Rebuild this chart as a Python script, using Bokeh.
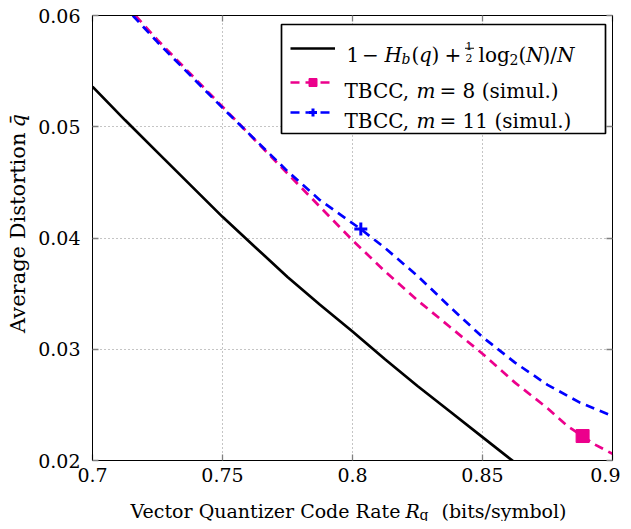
import math
from bokeh.plotting import figure
from bokeh.layouts import row, column
from bokeh.models import (Range1d, LinearAxis, FixedTicker, Legend, LegendItem,
                          Label, BoxAnnotation, CustomLabelingPolicy)
from bokeh.embed import file_html
from bokeh.resources import INLINE

# ---------------- data ----------------
bound_rate = [0.700, 0.7125, 0.725, 0.7375, 0.750, 0.7625, 0.775, 0.7875,
              0.800, 0.8125, 0.825, 0.8375, 0.850, 0.862]
bound_dist = [0.0536, 0.0506, 0.0477, 0.0448, 0.0419, 0.0392, 0.0365, 0.0340,
              0.0316, 0.0291, 0.0267, 0.0244, 0.0221, 0.0199]

m8_rate = [0.7165, 0.725, 0.750, 0.775, 0.800, 0.8125, 0.825, 0.8375, 0.850,
           0.8625, 0.875, 0.8827, 0.8885, 0.8927, 0.900]
m8_dist = [0.0600, 0.0578, 0.0518, 0.0458, 0.0398, 0.0370, 0.0344, 0.0320, 0.0296,
           0.0270, 0.0247, 0.0231, 0.0222, 0.0215, 0.0206]

m11_rate = [0.7155, 0.725, 0.750, 0.775, 0.7875, 0.8032, 0.8125, 0.825, 0.8375,
            0.850, 0.8625, 0.875, 0.8875, 0.900]
m11_dist = [0.0600, 0.0576, 0.0517, 0.0460, 0.0434, 0.0408, 0.0391, 0.0366, 0.0338,
            0.0311, 0.0288, 0.0268, 0.0252, 0.0240]

m8_mark_rate = [0.8885]
m8_mark_dist = [0.0222]
m11_mark_rate = [0.8032]
m11_mark_dist = [0.0408]

x_ticks = [0.70, 0.75, 0.80, 0.85, 0.90]
x_tick_labels = ["0.7", "0.75", "0.8", "0.85", "0.9"]
y_ticks = [0.02, 0.03, 0.04, 0.05, 0.06]
y_tick_labels = ["0.02", "0.03", "0.04", "0.05", "0.06"]

# ---------------- style ----------------
FONT = "DejaVu Serif"
TICK_FS = "19px"
TXT_FS = "20px"
PINK = "#EC008C"
BLUE = "#0000FF"
GRID = "#8a8a8a"

LEFT_W = 30
MAIN_W, MAIN_H = 590, 491
BOT_H = 30
TOTAL_H = 525
BOT_BOTTOM = 528          # page y of the bottom edge of the title strip
BORDER_L, BORDER_R = 62, 8

p = figure(width=MAIN_W, height=MAIN_H,
           x_range=Range1d(0.7, 0.9), y_range=Range1d(0.02, 0.06),
           output_backend="svg", toolbar_location=None,
           min_border_left=BORDER_L, min_border_right=BORDER_R,
           min_border_top=15, min_border_bottom=31)
p.background_fill_color = "white"
p.border_fill_color = "white"
p.outline_line_color = "black"
p.outline_line_width = 1

xt = FixedTicker(ticks=x_ticks)
yt = FixedTicker(ticks=y_ticks)

hide_all = CustomLabelingPolicy(code="""
const all = Array.from(indices)
for (const i of all) indices.unset(i)
return indices
""")


def style_axis(ax, ticker, ticks, labels, show_labels, standoff):
    ax.ticker = ticker
    ax.major_tick_in = 6
    ax.major_tick_out = 0
    ax.minor_tick_in = 0
    ax.minor_tick_out = 0
    ax.major_tick_line_color = "#808080"
    ax.major_tick_line_width = 1.3
    ax.axis_line_color = "black"
    ax.axis_line_width = 1
    if show_labels:
        ax.major_label_overrides = dict(zip(ticks, labels))
        ax.major_label_text_font = FONT
        ax.major_label_text_font_size = TICK_FS
        ax.major_label_text_color = "black"
        ax.major_label_standoff = standoff
    else:
        ax.major_label_overrides = {t: "" for t in ticks}
        ax.major_label_policy = hide_all
        ax.major_label_text_font_size = "1px"
        ax.major_label_standoff = 0


style_axis(p.below[0], xt, x_ticks, x_tick_labels, True, 7)
style_axis(p.left[0], yt, y_ticks, y_tick_labels, True, 12)
top_ax = LinearAxis()
right_ax = LinearAxis()
style_axis(top_ax, xt, x_ticks, None, False, 0)
style_axis(right_ax, yt, y_ticks, None, False, 0)
p.add_layout(top_ax, "above")
p.add_layout(right_ax, "right")

p.xgrid.ticker = xt
p.ygrid.ticker = yt
for g in (p.xgrid, p.ygrid):
    g.grid_line_color = GRID
    g.grid_line_dash = "1 3"
    g.grid_line_width = 1

# ---------------- data glyphs ----------------
r_bound = p.line(bound_rate, bound_dist, line_color="black", line_width=2.7)
r_m8 = p.line(m8_rate, m8_dist, line_color=PINK, line_width=2.7, line_dash="9 6")
r_m8m = p.scatter(m8_mark_rate, m8_mark_dist, marker="square", size=13,
                  fill_color=PINK, line_color=PINK)
r_m11 = p.line(m11_rate, m11_dist, line_color=BLUE, line_width=2.7, line_dash="9 6")
r_m11m = p.scatter(m11_mark_rate, m11_mark_dist, marker="cross", size=13,
                   line_color=BLUE, line_width=3)

# ---------------- legend (inside the frame) ----------------
FX0, FY0 = 95, 460  # frame left / bottom in page pixels


def sx(x):
    return x - FX0


def sy(y):
    return FY0 - y


def screen_box(fig, l, r, t, b, **kw):
    fig.add_layout(BoxAnnotation(left=l, right=r, top=t, bottom=b,
                                 left_units="screen", right_units="screen",
                                 top_units="screen", bottom_units="screen", **kw))


screen_box(p, sx(284), sx(608), sy(24), sy(133),
           fill_color="white", fill_alpha=1.0,
           line_color="black", line_alpha=1.0, line_width=1.7)

for rends, center in (([r_bound], 47.7), ([r_m8, r_m8m], 81.7), ([r_m11, r_m11m], 112.3)):
    lg = Legend(items=[LegendItem(label=" ", renderers=rends)],
                location=(sx(293), sy(center) - 10),
                glyph_width=45, glyph_height=20, label_height=20, label_width=1,
                label_standoff=0, padding=0, margin=0, spacing=0,
                border_line_alpha=0, background_fill_alpha=0,
                label_text_font_size="1px")
    p.add_layout(lg)


def txt(fig, x, y, s, size=TXT_FS, italic=False, align="left", angle=0.0,
        baseline="alphabetic"):
    fig.add_layout(Label(x=x, y=y, x_units="screen", y_units="screen", text=s,
                         text_font=FONT, text_font_size=size,
                         text_font_style="italic" if italic else "normal",
                         text_align=align, text_baseline=baseline,
                         text_color="black", angle=angle, angle_units="rad"))


# row 1 : 1 - H_b(q) + 1/2 log2(N)/N
b1 = sy(54)
txt(p, sx(349), b1, "1")
txt(p, sx(364.5), b1, "\u2212")
txt(p, sx(387), b1, "H", italic=True)
txt(p, sx(404), sy(58), "b", size="14px", italic=True)
txt(p, sx(414), b1, "(")
txt(p, sx(421.5), b1, "q", italic=True)
txt(p, sx(434), b1, ")")
txt(p, sx(447), b1, "+")
txt(p, sx(468), sy(45.5), "1", size="11px")
screen_box(p, sx(467.5), sx(476.5), sy(47.2), sy(48.3),
           fill_color="black", fill_alpha=1.0, line_alpha=0)
txt(p, sx(468), sy(57.7), "2", size="11px")
txt(p, sx(481), b1, "log")
txt(p, sx(512), sy(59), "2", size="14px")
txt(p, sx(521), b1, "(")
txt(p, sx(528.5), b1, "N", italic=True)
txt(p, sx(545), b1, ")/")
txt(p, sx(559.5), b1, "N", italic=True)

# rows 2 and 3
for base, rest in ((90, "= 8 (simul.)"), (120, "= 11 (simul.)")):
    txt(p, sx(347), sy(base), "TBCC,")
    txt(p, sx(419), sy(base), "m", italic=True)
    txt(p, sx(442), sy(base), rest)


# ---------------- axis titles in their own strips ----------------
def strip(w, h, bl=0, br=0):
    f = figure(width=w, height=h, x_range=Range1d(0, 1), y_range=Range1d(0, 1),
               output_backend="svg", toolbar_location=None,
               x_axis_location=None, y_axis_location=None,
               min_border_left=bl, min_border_right=br,
               min_border_top=0, min_border_bottom=0)
    f.outline_line_color = None
    f.background_fill_color = "white"
    f.border_fill_color = "white"
    for g in f.grid:
        g.visible = False
    return f


left_fig = strip(LEFT_W, TOTAL_H)
bot_fig = strip(MAIN_W, BOT_H, BORDER_L, BORDER_R)      # frame aligned with main frame


def by(y):
    return BOT_BOTTOM - y


XT_FS = "19px"
txt(bot_fig, sx(403), by(517), "Vector Quantizer Code Rate", size=XT_FS, align="right")
txt(bot_fig, sx(408), by(517), "R", size=XT_FS, italic=True)
txt(bot_fig, sx(422), by(521), "q", size="14px")
txt(bot_fig, sx(444), by(517), "(bits/symbol)", size=XT_FS)

txt(left_fig, 17, TOTAL_H - 132, "Average Distortion", size="21px", align="right",
    angle=math.pi / 2, baseline="middle")
txt(left_fig, 17, TOTAL_H - 127, "q\u0304", size="21px", italic=True,
    angle=math.pi / 2, baseline="middle")

layout = row(left_fig, column(p, bot_fig))
open("out.html", "w").write(file_html(layout, INLINE))
